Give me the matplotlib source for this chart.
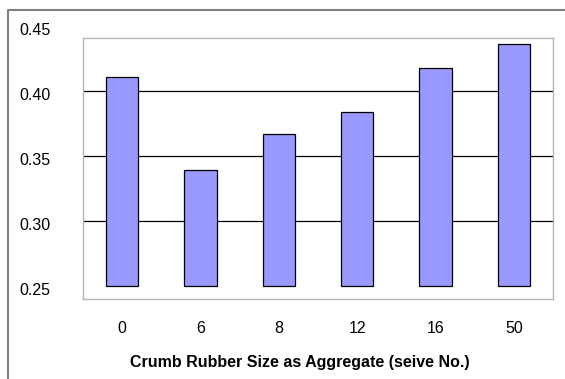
import numpy as np
import matplotlib
matplotlib.use("Agg")
import matplotlib.pyplot as plt
from matplotlib.lines import Line2D
import matplotlib.transforms as mtransforms

plt.rcParams['font.family'] = ['Liberation Sans', 'DejaVu Sans']

# sieve sizes and measured values
sieve_sizes = ['0', '6', '8', '12', '16', '50']
values = [0.411, 0.339, 0.367, 0.384, 0.418, 0.436]
y_labels = [0.25, 0.30, 0.35, 0.40, 0.45]
base = 0.25

fig = plt.figure(figsize=(5.65, 3.79), dpi=100)
ax = fig.add_axes([0.1469, 0.2111, 0.8319, 0.6887])

x = np.arange(len(sieve_sizes))
heights = np.array(values) - base
ax.bar(x, heights, bottom=base, width=0.41, color='#9999ff',
       edgecolor='black', linewidth=0.9, zorder=3)

ax.set_xlim(-0.5, len(sieve_sizes) - 0.5)
ax.set_ylim(0.24, 0.441)

# horizontal grid lines
for g in [0.30, 0.35, 0.40]:
    ax.axhline(g, color='black', linewidth=0.9, zorder=1)

ax.set_yticks([])
ax.set_xticks(x)
ax.set_xticklabels(sieve_sizes, fontsize=11.5)
ax.tick_params(axis='x', length=0, pad=16)

for side in ax.spines.values():
    side.set_color('#b4b4b4')
    side.set_linewidth(1.0)

# value labels on the left, outside the plot area
trans = mtransforms.blended_transform_factory(fig.transFigure, ax.transData)
offset = mtransforms.ScaledTranslation(0, -4 / 100, fig.dpi_scale_trans)
for v in y_labels:
    fig.text(19 / 565, v, f"{v:.2f}", fontsize=11.5, ha='left', va='center',
             transform=trans + offset)

fig.text(300 / 565, 1 - 363 / 379, "Crumb Rubber Size as Aggregate (seive No.)",
         fontsize=11.5, fontweight='bold', ha='center', va='center')

# outer chart frame (top and left edges)
fig.add_artist(Line2D([8 / 565, 8 / 565, 1.0], [0.0, 1 - 10 / 379, 1 - 10 / 379],
                      transform=fig.transFigure, color='#808080', linewidth=1.5))

fig.savefig("out.png", dpi=100)
